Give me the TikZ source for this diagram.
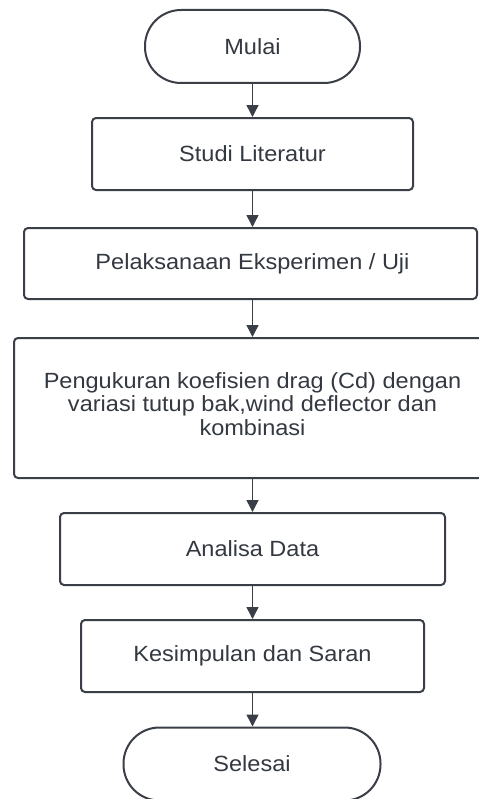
\documentclass[tikz,border=0pt]{standalone}
\usepackage{fontspec}
\setmainfont{Liberation Sans}[FakeStretch=1.07]
\usetikzlibrary{arrows.meta}
\definecolor{ln}{RGB}{58,62,70}
\definecolor{tx}{RGB}{52,57,65}
\begin{document}
\begin{tikzpicture}[x=0.75pt,y=-0.75pt,
  box/.style={draw=ln, line width=1.5pt, rounded corners=3pt, fill=white, text=tx,
    font=\fontsize{16.5}{17.6}\selectfont, align=center, inner sep=0pt},
  term/.style={box, rounded corners=27pt},
  arr/.style={draw=ln, line width=1.1pt, -{Triangle[width=9pt,length=9pt]}}]
\useasboundingbox (0,0) rectangle (478,799);
\node[term, minimum width=161.25pt, minimum height=54.75pt] (mulai) at (252.5,46.5) {Mulai};
\node[box, minimum width=240.75pt, minimum height=54pt] (studi) at (252.5,154) {Studi Literatur};
\node[box, minimum width=339.75pt, minimum height=53.25pt] (uji) at (250.5,263.5) {\hspace*{3pt}Pelaksanaan Eksperimen / Uji};
\node[box, minimum width=357.75pt, minimum height=105pt] (ukur) at (252.5,408) {Pengukuran koefisien drag (Cd) dengan\\variasi tutup bak,wind deflector dan\\kombinasi\\[-11.6pt]};
\node[box, minimum width=288.75pt, minimum height=54pt] (analisa) at (252.5,549) {Analisa Data};
\node[box, minimum width=257.25pt, minimum height=54pt] (simpul) at (252.5,656) {Kesimpulan dan Saran};
\node[term, minimum width=192.75pt, minimum height=54.75pt] (selesai) at (252,764) {Selesai};
\draw[arr] (mulai) -- (studi);
\draw[arr] (studi) -- (uji.north -| studi.south);
\draw[arr] (uji.south -| studi.south) -- (ukur);
\draw[arr] (ukur) -- (analisa);
\draw[arr] (analisa) -- (simpul);
\draw[arr] (simpul) -- (selesai.north -| simpul.south);
\end{tikzpicture}
\end{document}
